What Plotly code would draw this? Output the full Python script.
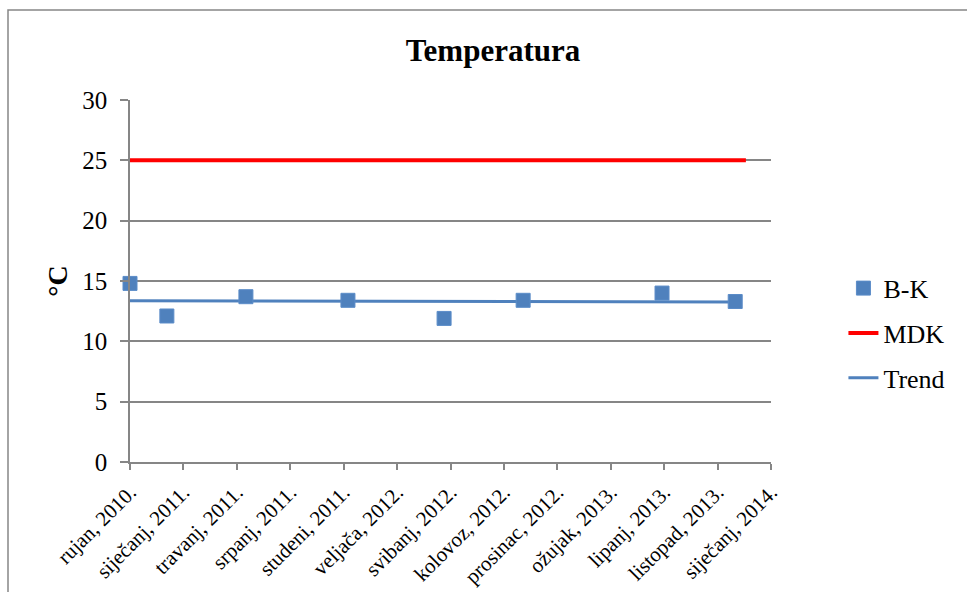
import numpy as np
import pandas as pd
import plotly.graph_objects as go

# ---- data ----
bk_dates = ["2010-09-30", "2010-12-08", "2011-05-05", "2011-11-12",
            "2012-05-10", "2012-10-05", "2013-06-22", "2013-11-06"]
bk_values = [14.8, 12.1, 13.7, 13.4, 11.9, 13.4, 14.0, 13.3]

mdk_dates = ["2010-09-30", "2013-11-26"]
mdk_values = [25, 25]

tick_labels = ["rujan, 2010.", "siječanj, 2011.", "travanj, 2011.", "srpanj, 2011.",
               "studeni, 2011.", "veljača, 2012.", "svibanj, 2012.", "kolovoz, 2012.",
               "prosinac, 2012.", "ožujak, 2013.", "lipanj, 2013.", "listopad, 2013.",
               "siječanj, 2014."]
axis_start = "2010-09-30"
tick_step_days = 100

# ---- derived ----
bk_dt = pd.to_datetime(bk_dates)
days = np.array([(d - bk_dt[0]).days for d in bk_dt], dtype=float)
slope, intercept = np.polyfit(days, np.array(bk_values), 1)
trend_dates = [bk_dt[0], bk_dt[-1]]
trend_values = [intercept + slope * days[0], intercept + slope * days[-1]]

start = pd.Timestamp(axis_start)
tickvals = [start + pd.Timedelta(days=tick_step_days * k) for k in range(len(tick_labels))]
x_end = tickvals[-1]

BLUE = "#4F81BD"
GRID = "#868686"
FONT = "Liberation Serif, Times New Roman, serif"

fig = go.Figure()
fig.add_trace(go.Scatter(
    x=pd.to_datetime(mdk_dates), y=mdk_values, mode="lines", name="MDK",
    line=dict(color="#FF0000", width=4), legendgroup="b", legendrank=2))
fig.add_trace(go.Scatter(
    x=trend_dates, y=trend_values, mode="lines", name="Trend",
    line=dict(color=BLUE, width=3), legendgroup="c", legendrank=3))
fig.add_trace(go.Scatter(
    x=bk_dt, y=bk_values, mode="markers", name="B-K",
    marker=dict(symbol="square", size=14, color=BLUE,
                line=dict(color="#5B8CC8", width=1)),
    cliponaxis=False, legendgroup="a", legendrank=1))

fig.update_layout(
    width=967, height=592,
    margin=dict(l=130, r=196, t=100, b=130),
    paper_bgcolor="white", plot_bgcolor="white",
    font=dict(family=FONT, color="black", size=22),
    title=dict(text="<b>Temperatura</b>", x=(493) / 967, xanchor="center",
               y=1 - 50 / 592, yanchor="middle",
               font=dict(family=FONT, size=31, color="black")),
    showlegend=True,
    legend=dict(x=1.113, xanchor="left", y=0.545, yanchor="top",
                font=dict(family=FONT, size=26, color="black"),
                tracegroupgap=8, bgcolor="rgba(0,0,0,0)"),
    shapes=[dict(type="rect", xref="paper", yref="paper",
                 x0=(8 - 130) / 641, x1=(1000 - 130) / 641,
                 y0=(462 - 620) / 362, y1=(462 - 10) / 362,
                 line=dict(color=GRID, width=1.5), fillcolor="rgba(0,0,0,0)",
                 layer="below")],
)

fig.update_xaxes(
    type="date", range=[start, x_end],
    tickmode="array", tickvals=tickvals, ticktext=tick_labels,
    tickangle=-45, tickfont=dict(family=FONT, size=21, color="black"),
    ticklabelstandoff=2,
    showgrid=False, showline=True, linecolor=GRID, linewidth=1.5,
    ticks="outside", ticklen=6, tickcolor=GRID, tickwidth=1.5,
    zeroline=False, automargin=False)

fig.update_yaxes(
    range=[0, 30], tickvals=[0, 5, 10, 15, 20, 25, 30],
    tickfont=dict(family=FONT, size=25, color="black"),
    ticklabelstandoff=8,
    showgrid=True, gridcolor=GRID, gridwidth=1.5,
    showline=True, linecolor=GRID, linewidth=1.5,
    ticks="outside", ticklen=8, tickcolor=GRID, tickwidth=1.5,
    zeroline=False, automargin=False,
    title=dict(text="<b>°C</b>", font=dict(family=FONT, size=28, color="black"),
               standoff=6))

fig.write_html("out.html", config={"displayModeBar": False},
               post_script="document.body.style.margin='0';document.body.style.overflow='hidden';")
